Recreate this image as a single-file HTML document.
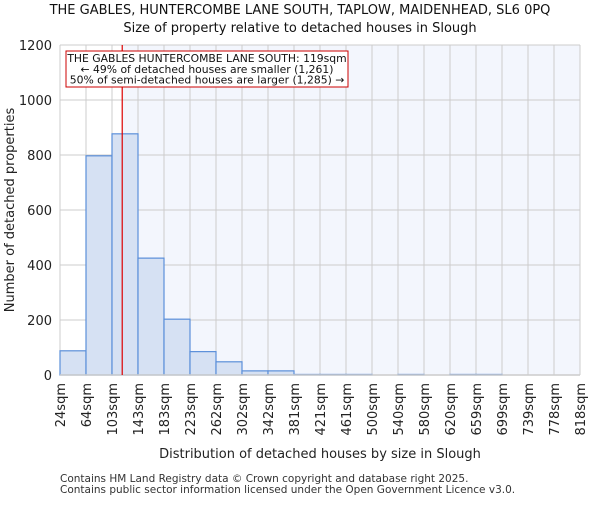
<!DOCTYPE html>
<html><head><meta charset="utf-8"><style>body{margin:0;background:#fff}svg{font-family:"DejaVu Sans","Liberation Sans",sans-serif}</style></head>
<body>
<svg id="c" width="600" height="500"></svg>
<script>
const categories=["24sqm","64sqm","103sqm","143sqm","183sqm","223sqm","262sqm","302sqm","342sqm","381sqm","421sqm","461sqm","500sqm","540sqm","580sqm","620sqm","659sqm","699sqm","739sqm","778sqm","818sqm"];
const counts=[88,797,877,425,203,85,48,15,15,2,2,2,0,2,0,2,2,0,0,0];
const yTicks=[0,200,400,600,800,1000,1200];
const propertySize=119;
const binStart=24, binWidth=39.7;
const NS="http://www.w3.org/2000/svg";
const svg=document.getElementById('c');
const L=60,R=580,T=45,B=375,yMax=1200;
const bw=(R-L)/counts.length;
const y=v=>B-(v/yMax)*(B-T);
const x=s=>L+(s-binStart)/binWidth*bw;
function el(t,a,p){const e=document.createElementNS(NS,t);for(const k in a)e.setAttribute(k,a[k]);(p||svg).appendChild(e);return e;}
const px=x(propertySize);
const bg=el('rect',{x:px,y:T,width:R-px,height:B-T,fill:'#f3f6fd'});


yTicks.forEach(v=>{const g=el('line',{x1:L,x2:R,y1:y(v),y2:y(v),stroke:'#ccc'});


const t=el('text',{x:L-8,y:y(v)+5,'text-anchor':'end','font-size':13,fill:'#222'});t.textContent=v;

});
for(let i=0;i<=counts.length;i++){const g=el('line',{x1:L+i*bw,x2:L+i*bw,y1:T,y2:B,stroke:'#ccc'});

}
counts.forEach((c,i)=>{const r=el('rect',{x:L+i*bw,y:y(c),width:bw,height:B-y(c),fill:'#d6e1f3',stroke:'#5b8fd9','stroke-width':1.2});

});
const ax=el('line',{x1:L,x2:R,y1:B,y2:B,stroke:'#ccc','stroke-width':1.5});


categories.forEach((c,i)=>{const xx=L+i*bw;const t=el('text',{transform:`translate(${xx+5},${B+8}) rotate(-90)`,'text-anchor':'end','font-size':13,fill:'#222'});t.textContent=c;

});
const pl=el('line',{x1:px,x2:px,y1:T,y2:B,stroke:'#d00','stroke-width':1.2});


const box=el('rect',{x:66,y:51,width:282,height:36,fill:'#fff',stroke:'#c00','stroke-width':1});


["THE GABLES HUNTERCOMBE LANE SOUTH: 119sqm","← 49% of detached houses are smaller (1,261)","50% of semi-detached houses are larger (1,285) →"].forEach((s,i)=>{const t=el('text',{x:207,y:62+i*10.8,'text-anchor':'middle','font-size':10.8,fill:'#111'});t.textContent=s;

});
function txt(s,a,n){const t=el('text',a);t.textContent=s;}
txt("THE GABLES, HUNTERCOMBE LANE SOUTH, TAPLOW, MAIDENHEAD, SL6 0PQ",{x:300,y:14,'text-anchor':'middle','font-size':13,fill:'#111'},'chart-title');
txt("Size of property relative to detached houses in Slough",{x:300,y:32,'text-anchor':'middle','font-size':13,fill:'#111'},'chart-subtitle');
txt("Distribution of detached houses by size in Slough",{x:320,y:458,'text-anchor':'middle','font-size':13,fill:'#222'},'x-axis-title');
txt("Number of detached properties",{transform:'translate(14,210) rotate(-90)','text-anchor':'middle','font-size':13,fill:'#222'},'y-axis-title');
txt("Contains HM Land Registry data © Crown copyright and database right 2025.",{x:60,y:482,'font-size':10.5,fill:'#333'},'footer-line-1');
txt("Contains public sector information licensed under the Open Government Licence v3.0.",{x:60,y:493,'font-size':10.5,fill:'#333'},'footer-line-2');
</script>
</body></html>
